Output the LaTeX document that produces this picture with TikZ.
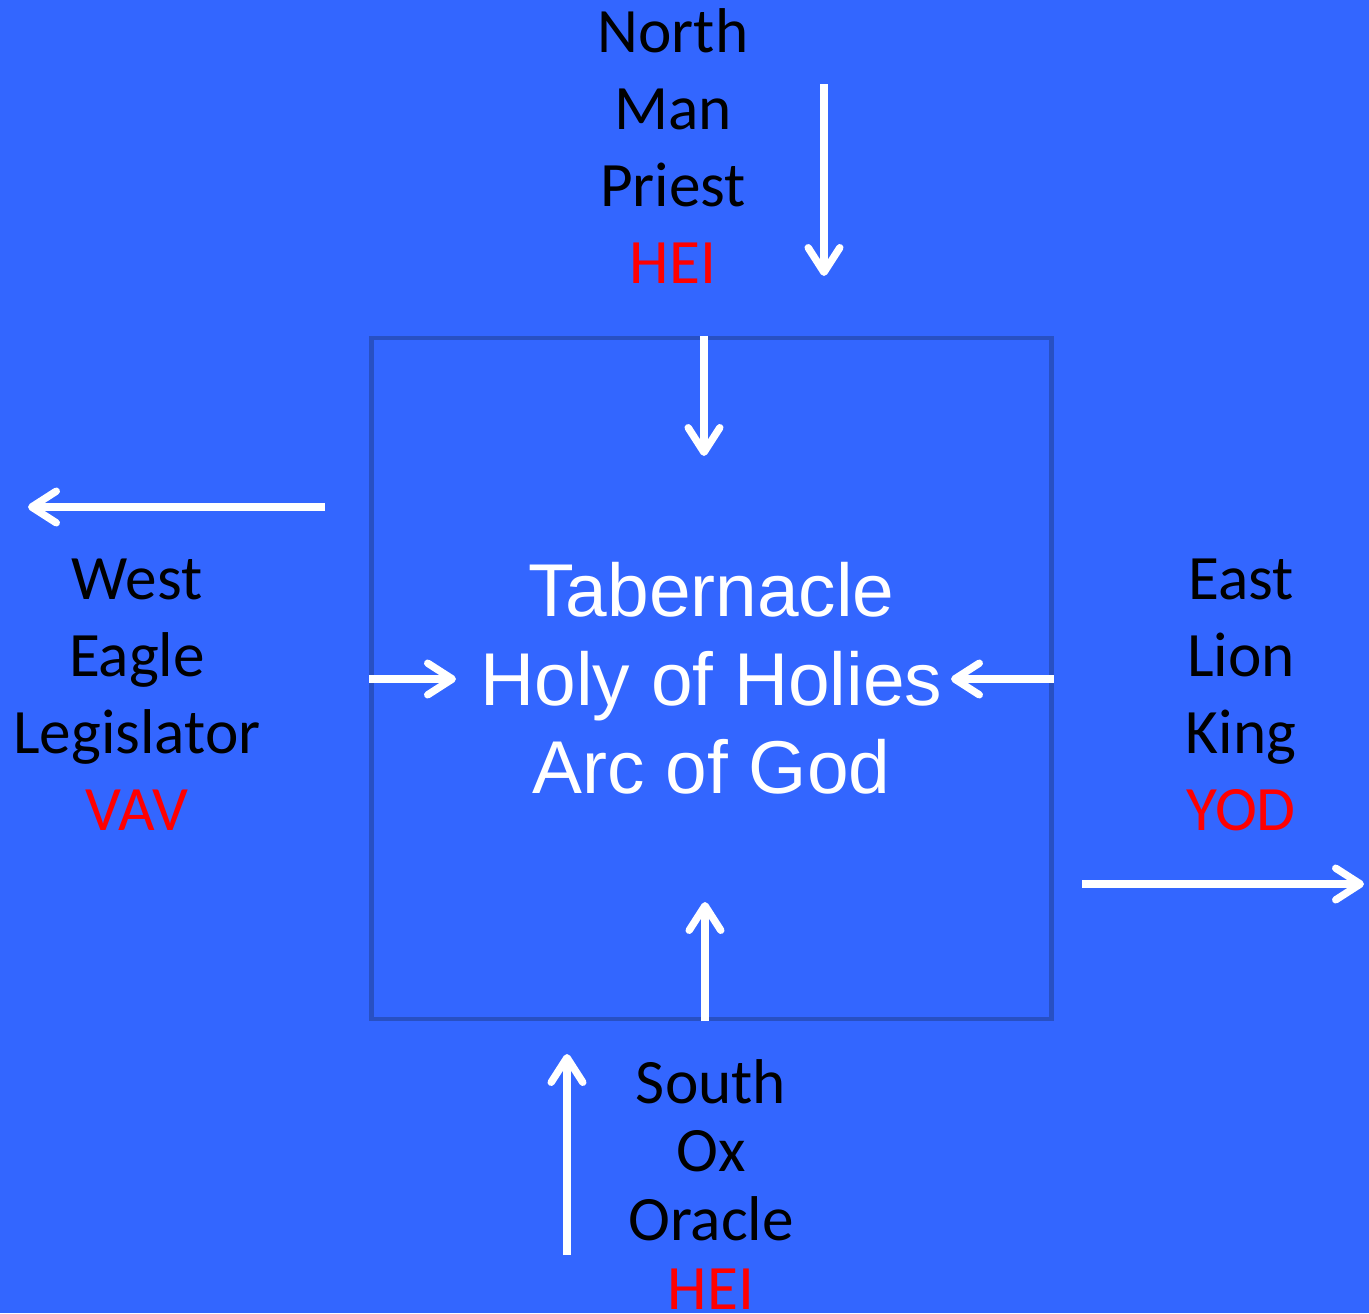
\documentclass[tikz,border=0pt]{standalone}
\usepackage{fontspec}
\setmainfont{Carlito}
\newfontfamily\arialf{Liberation Sans}
\usetikzlibrary{arrows.meta}
\definecolor{bgblue}{RGB}{51,102,255}
\definecolor{boxedge}{RGB}{40,80,195}
\begin{document}
\begin{tikzpicture}[x=0.02cm,y=-0.02cm,
  lbl/.style={align=center,inner sep=0pt,font=\fontsize{36}{43.7}\selectfont,text=black},
  slbl/.style={align=center,inner sep=0pt,font=\fontsize{36}{39}\selectfont,text=black},
  warr/.style={draw=white,line width=4.2pt,line cap=butt,
    -{Straight Barb[length=14pt,width=18pt,round]}},
  boxstyle/.style={draw=boxedge,line width=2.5pt,minimum width=13.6cm,minimum height=13.62cm,
    inner sep=0pt,align=center,text=white,font=\arialf\fontsize{42.6}{50.5}\selectfont}]
\fill[bgblue] (0,0) rectangle (1369,1313);
\useasboundingbox (0,0) rectangle (1369,1313);
% central box
\node[boxstyle] (box) at (711.5,678.5) {Tabernacle\\Holy of Holies\\Arc of God};
% labels (base anchor = baseline of last line)
\node[lbl,anchor=base] (north) at (673,283) {North\\Man\\Priest\\\textcolor{red}{HEI}};
\node[lbl,anchor=base] (west) at (137,830) {West\\Eagle\\Legislator\\\textcolor{red}{VAV}};
\node[lbl,anchor=base] (east) at (1241,830) {East\\Lion\\King\\\textcolor{red}{YOD}};
\node[slbl,anchor=base] (south) at (711,1309) {South\\Ox\\Oracle\\\textcolor{red}{HEI}};
% coordinates for free arrow ends
\coordinate (nA) at (824,84);  \coordinate (nB) at (824,276);
\coordinate (wA) at (325,507); \coordinate (wB) at (28,507);
\coordinate (eA) at (1082,884); \coordinate (eB) at (1364,884);
\coordinate (sA) at (567,1255); \coordinate (sB) at (567,1054);
\coordinate (it) at (704,456);
\coordinate (il) at (456,679);
\coordinate (ir) at (951,679);
\coordinate (ib) at (705,902);
% outer arrows
\draw[warr] (nA) -- (nB);
\draw[warr] (wA) -- (wB);
\draw[warr] (eA) -- (eB);
\draw[warr] (sA) -- (sB);
% inner arrows
\draw[warr] (box.north -| it) -- (it);
\draw[warr] (box.west |- il) -- (il);
\draw[warr] (box.east |- ir) -- (ir);
\draw[warr] (box.south -| ib) -- (ib);
\end{tikzpicture}
\end{document}
